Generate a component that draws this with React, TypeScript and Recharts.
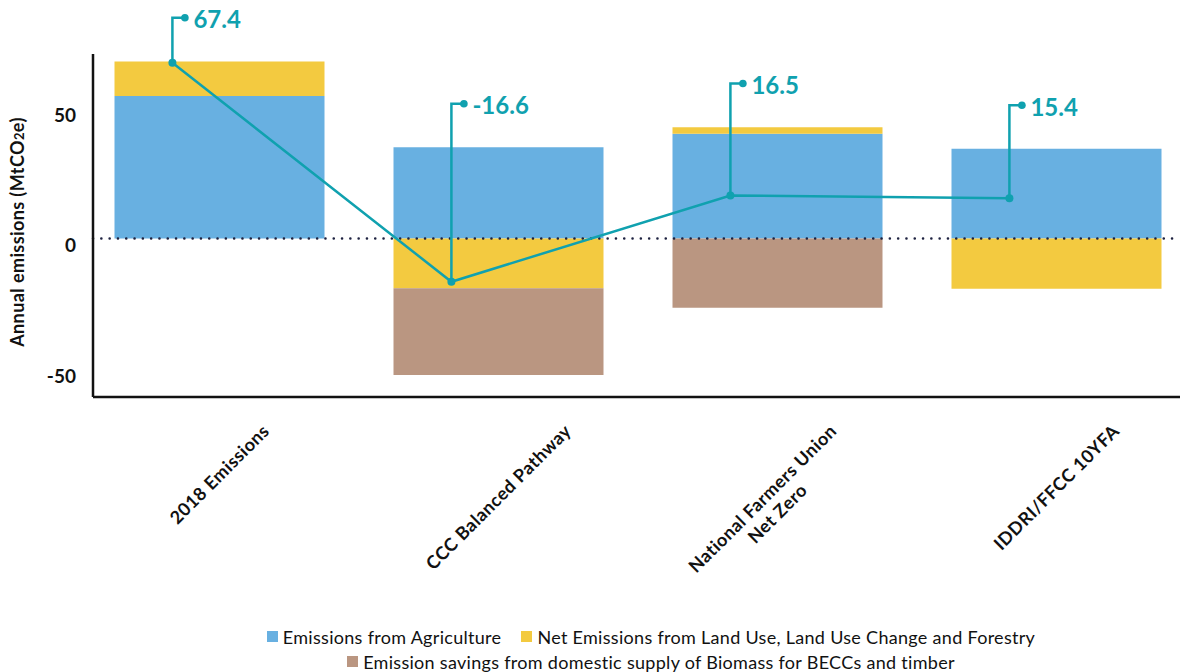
import React from 'react';
import {
  ComposedChart, Bar, Line, XAxis, YAxis, ReferenceLine, LabelList
} from 'recharts';

const categories = [
  '2018 Emissions',
  'CCC Balanced Pathway',
  'National Farmers Union\nNet Zero',
  'IDDRI/FFCC 10YFA',
];
const agriculture = [54.6, 35.0, 40.2, 34.4];
const landUse = [13.3, -19.1, 2.5, -19.3];
const biomass = [0, -33.3, -26.6, 0];
const netEmissions = [67.4, -16.6, 16.5, 15.4];

const series = [
  { key: 'agriculture', name: 'Emissions from Agriculture', color: '#68B0E1' },
  { key: 'landUse', name: 'Net Emissions from Land Use, Land Use Change and Forestry', color: '#F3CA40' },
  { key: 'biomass', name: 'Emission savings from domestic supply of Biomass for BECCs and timber', color: '#BA9681' },
];

const chartData = categories.map((name, i) => ({
  name,
  idx: i,
  agriculture: agriculture[i],
  landUse: landUse[i],
  biomass: biomass[i],
  net: netEmissions[i],
}));

const TEAL = '#10A1AF';
const FONT = 'Lato, "Open Sans", sans-serif';
const TICK_FONT_SIZE = 18;
const TICK_SPACING = 0.5;
// how far each value callout climbs above its point (px)
const calloutRise = [45, 178, 112, 93];

const ctx = typeof document !== 'undefined' ? document.createElement('canvas').getContext('2d') : null;
const measure = (s: string) => {
  if (!ctx) return s.length * 10.5;
  ctx.font = `700 ${TICK_FONT_SIZE}px Lato`;
  return ctx.measureText(s).width + s.length * TICK_SPACING;
};

const CategoryTick = (props: any) => {
  const { x, y, payload } = props;
  const lines = String(payload.value).split('\n');
  const n = lines.length;
  const lh = 21;
  const first = measure(lines[0]);
  const cy = y + 26 + ((n - 1) * lh + 6 + first / 2) / Math.SQRT2;
  return (
    <g transform={`translate(${x},${cy}) rotate(-45)`}>
      {lines.map((l, i) => (
        <text
          key={i}
          x={0}
          y={(i - (n - 1)) * lh}
          textAnchor="middle"
          dominantBaseline="central"
          fontFamily={FONT}
          fontWeight={700}
          fontSize={TICK_FONT_SIZE}
          letterSpacing={TICK_SPACING}
          fill="#111"
        >
          {l}
        </text>
      ))}
    </g>
  );
};

const Callout = (props: any) => {
  const { x, y, value, index } = props;
  const top = y - calloutRise[index];
  return (
    <g>
      <path d={`M${x},${y} V${top} H${x + 12.5}`} fill="none" stroke={TEAL} strokeWidth={2.5} />
      <circle cx={x + 12.5} cy={top} r={3.8} fill={TEAL} />
      <text
        x={x + 21}
        y={top + 1}
        dominantBaseline="central"
        fontFamily={FONT}
        fontWeight={700}
        fontSize={24}
        fill={TEAL}
      >
        {value}
      </text>
    </g>
  );
};

const YTitle = () => (
  <text
    transform="translate(24,232) rotate(-90)"
    textAnchor="middle"
    fontFamily={FONT}
    fontWeight={700}
    fontSize={18}
    letterSpacing={0.4}
    fill="#111"
  >
    Annual emissions (MtCO<tspan fontSize={13}>2</tspan>e)
  </text>
);

const axisPadding = { left: -13.5, right: -15.5 };

const Legend = () => {
  const rows = [series.slice(0, 2), series.slice(2)];
  return (
    <div
      style={{
        position: 'absolute', left: 114, top: 624, width: 1074,
        fontFamily: FONT, fontSize: 18, letterSpacing: 0.3, color: '#111',
      }}
    >
      {rows.map((row, r) => (
        <div key={r} style={{ display: 'flex', justifyContent: 'center', height: 25, alignItems: 'center', whiteSpace: 'nowrap' }}>
          {row.map((s) => (
            <div key={s.key} style={{ display: 'flex', alignItems: 'center', margin: '0 10px' }}>
              <span style={{ width: 11, height: 11, background: s.color, display: 'inline-block', marginRight: 5 }} />
              <span>{s.name}</span>
            </div>
          ))}
        </div>
      ))}
    </div>
  );
};

export default function App() {
  return (
    <div style={{ position: 'absolute', left: 0, top: 0, width: 1188, height: 672, background: '#fff' }}>
      <ComposedChart
        width={1188}
        height={672}
        data={chartData}
        stackOffset="sign"
        margin={{ top: 54, right: 8, bottom: 75, left: 0 }}
      >
        <XAxis
          dataKey="name"
          interval={0}
          height={200}
          padding={axisPadding}
          tickLine={false}
          tickSize={0}
          tickMargin={0}
          axisLine={{ stroke: '#111', strokeWidth: 2.5 }}
          tick={<CategoryTick />}
        />
        <XAxis
          xAxisId="net"
          type="number"
          dataKey="idx"
          domain={[-0.333, 3.667]}
          allowDataOverflow
          padding={axisPadding}
          hide
        />
        <YAxis
          width={93}
          domain={[-60.8, 70.75]}
          ticks={[-50, 0, 50]}
          allowDataOverflow
          tickLine={false}
          tickSize={0}
          tickMargin={17}
          axisLine={{ stroke: '#111', strokeWidth: 2.5 }}
          tick={{ fontFamily: FONT, fontWeight: 700, fontSize: 19, fill: '#111', dy: 7 }}
          label={<YTitle />}
        />
        {series.map((s) => (
          <Bar
            key={s.key}
            dataKey={s.key}
            name={s.name}
            stackId="a"
            fill={s.color}
            barSize={210}
            isAnimationActive={false}
          />
        ))}
        <ReferenceLine
          y={0}
          stroke="#1E2240"
          strokeWidth={2.5}
          strokeDasharray="0.1 8.2"
          strokeLinecap="round"
        />
        <Line
          xAxisId="net"
          dataKey="net"
          type="linear"
          stroke={TEAL}
          strokeWidth={2.5}
          dot={{ r: 4, fill: TEAL, stroke: TEAL, strokeWidth: 0 }}
          activeDot={false}
          isAnimationActive={false}
        >
          <LabelList dataKey="net" content={<Callout />} />
        </Line>
      </ComposedChart>
      <Legend />
    </div>
  );
}
